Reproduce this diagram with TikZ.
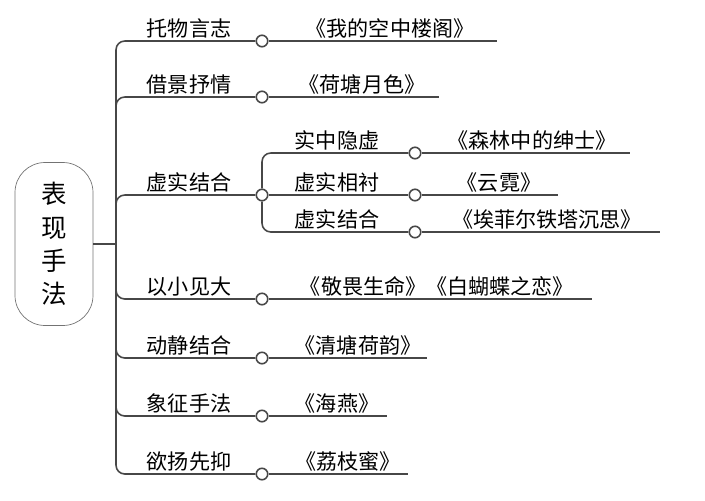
\documentclass[tikz,border=0pt]{standalone}
\usepackage{fontspec}
\setmainfont{Noto Sans CJK SC}
\usepackage{tikz}
\usetikzlibrary{positioning,calc}

\begin{document}
\begin{tikzpicture}[
    x=0.02cm, y=-0.02cm,
    line/.style={draw=black!72, line width=0.9pt},
    dot/.style={circle, draw=black!72, line width=0.9pt, fill=white, minimum size=0.23cm, inner sep=0pt},
    tag/.style={font=\fontsize{12}{14}\selectfont, inner sep=0pt, anchor=south},
    rootbox/.style={draw=black!55, rounded corners=0.6cm, minimum width=1.56cm, minimum height=3.26cm, align=center, font=\fontsize{14.5}{19}\selectfont},
]
\useasboundingbox (0,0) rectangle (705,500);

\node[rootbox] (root) at (54,244) {表\\现\\手\\法};
\coordinate (trunk) at (116,244);

\node[dot] (c1) at (262,41) {};
\node[dot] (c2) at (262,97) {};
\node[dot] (c3) at (262,195) {};
\node[dot] (c4) at (262,299) {};
\node[dot] (c5) at (262,358) {};
\node[dot] (c6) at (262,416) {};
\node[dot] (c7) at (262,474) {};

\node[dot] (d1) at (415,153) {};
\node[dot] (d2) at (415,195) {};
\node[dot] (d3) at (415,232) {};

\coordinate (e1) at (497,41);
\coordinate (e2) at (439,97);
\coordinate (e4) at (592,299);
\coordinate (e5) at (427,358);
\coordinate (e6) at (387,416);
\coordinate (e7) at (408,474);
\coordinate (f1) at (630,153);
\coordinate (f2) at (558,195);
\coordinate (f3) at (660,232);

\node[tag] (t1) at (189,39) {托物言志};
\node[tag] (t2) at (189,95) {借景抒情};
\node[tag] (t3) at (189,193) {虚实结合};
\node[tag] (t4) at (189,297) {以小见大};
\node[tag] (t5) at (189,356) {动静结合};
\node[tag] (t6) at (189,414) {象征手法};
\node[tag] (t7) at (189,472) {欲扬先抑};

\node[tag] (s1) at (337,151) {实中隐虚};
\node[tag] (s2) at (337,193) {虚实相衬};
\node[tag] (s3) at (337,230) {虚实结合};

\node[tag] (b1) at (390,39) {《我的空中楼阁》};
\node[tag] (b2) at (362,95) {《荷塘月色》};
\node[tag] (b4) at (437,297) {《敬畏生命》《白蝴蝶之恋》};
\node[tag] (b5) at (358,356) {《清塘荷韵》};
\node[tag] (b6) at (337,414) {《海燕》};
\node[tag] (b7) at (348,472) {《荔枝蜜》};
\node[tag] (g1) at (532,151) {《森林中的绅士》};
\node[tag] (g2) at (499,193) {《云霓》};
\node[tag] (g3) at (547,230) {《埃菲尔铁塔沉思》};

\draw[line] (root.east) -- (trunk);
\draw[line, rounded corners=5pt] (trunk) |- (c1.west);
\draw[line, rounded corners=5pt] (trunk) |- (c2.west);
\draw[line, rounded corners=5pt] (trunk) |- (c3.west);
\draw[line, rounded corners=5pt] (trunk) |- (c4.west);
\draw[line, rounded corners=5pt] (trunk) |- (c5.west);
\draw[line, rounded corners=5pt] (trunk) |- (c6.west);
\draw[line, rounded corners=5pt] (trunk) |- (c7.west);

\draw[line] (c1.east) -- (e1);
\draw[line] (c2.east) -- (e2);
\draw[line] (c4.east) -- (e4);
\draw[line] (c5.east) -- (e5);
\draw[line] (c6.east) -- (e6);
\draw[line] (c7.east) -- (e7);

\draw[line, rounded corners=5pt] (c3.north) |- (d1.west);
\draw[line] (c3.east) -- (d2.west);
\draw[line, rounded corners=5pt] (c3.south) |- (d3.west);

\draw[line] (d1.east) -- (f1);
\draw[line] (d2.east) -- (f2);
\draw[line] (d3.east) -- (f3);
\end{tikzpicture}
\end{document}
